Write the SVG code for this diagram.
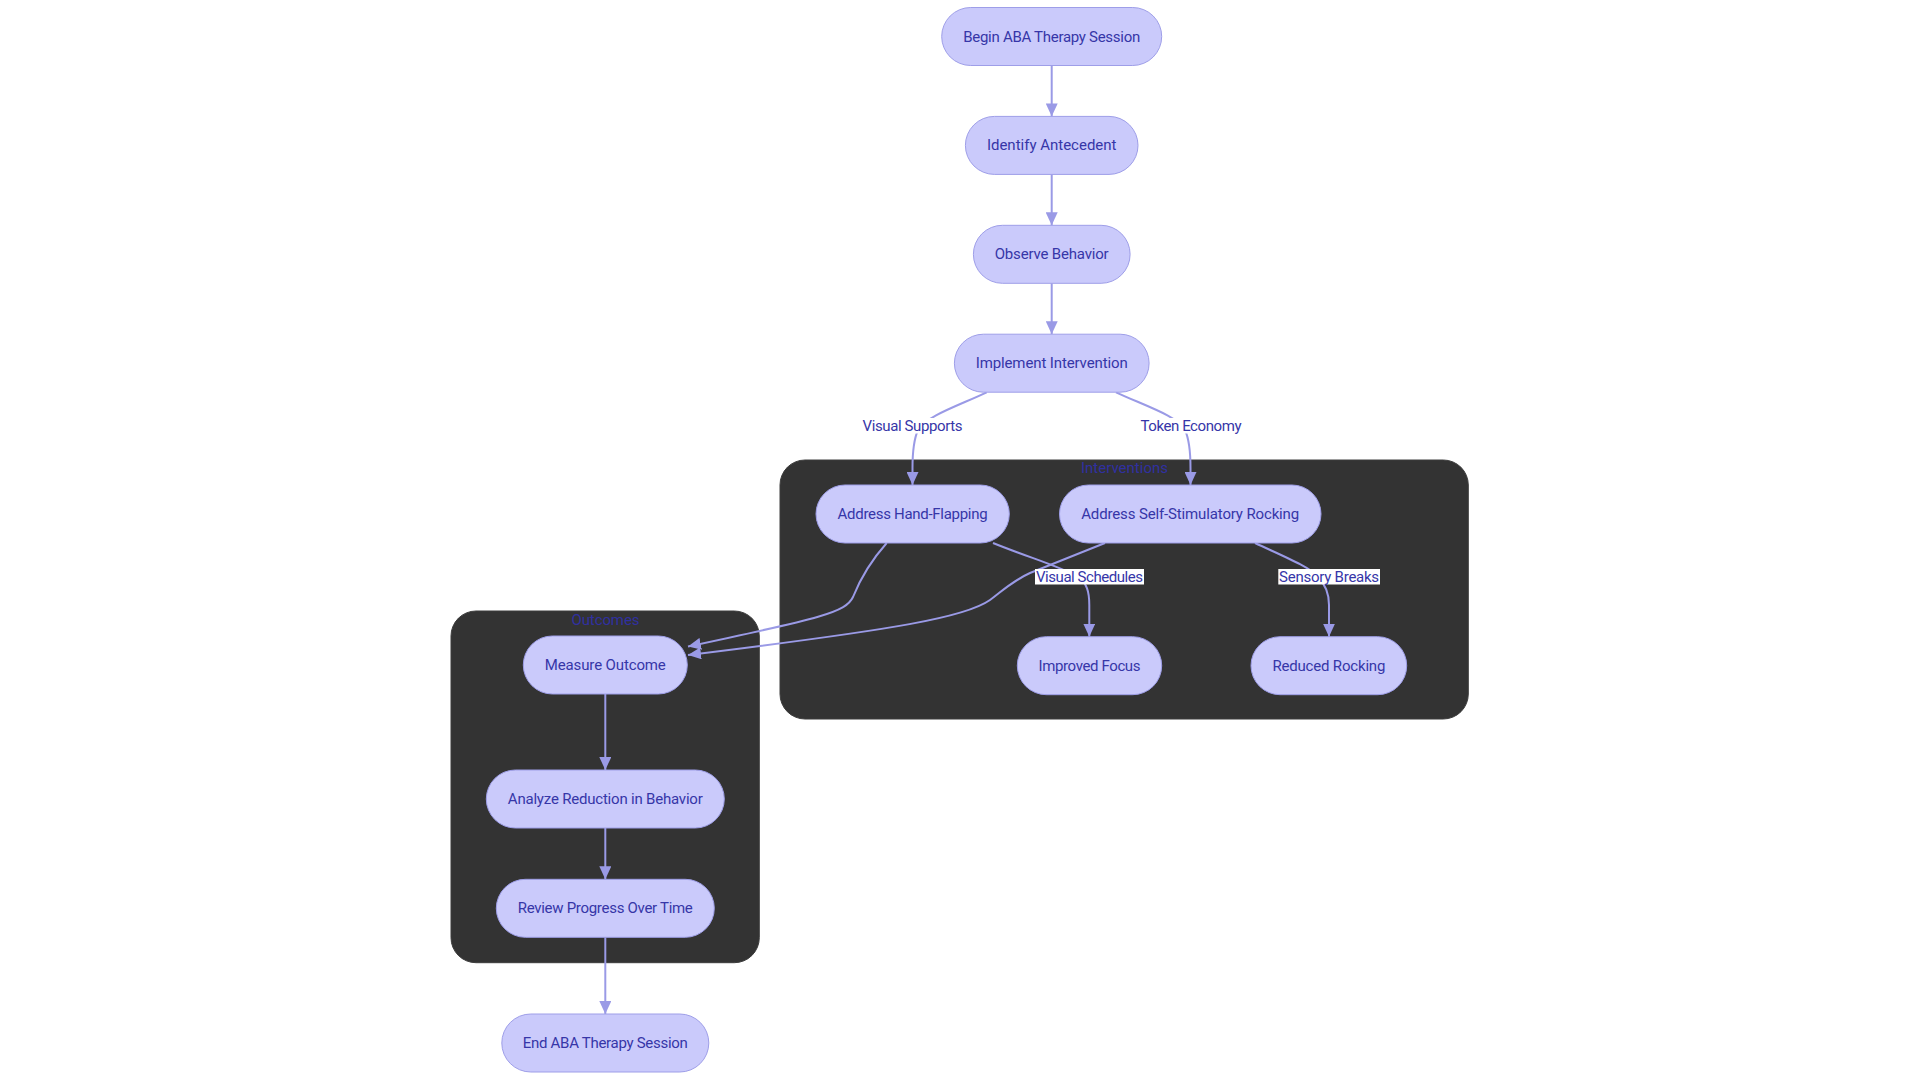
<svg xmlns="http://www.w3.org/2000/svg" width="1920" height="1080" viewBox="0 0 1920 1080">
<style>
.node rect{fill:#CACAFB;stroke:#9E9EE8;stroke-width:1}
.node text,.elabel text{font-family:Roboto,"Liberation Sans",sans-serif;font-size:15px;fill:#3636A8;text-anchor:middle;dominant-baseline:central}
.cluster rect{fill:#333333;stroke:#3d3d3d;stroke-width:1}
.cluster text{font-family:Roboto,"Liberation Sans",sans-serif;font-size:15px;fill:#3030A0;text-anchor:middle;dominant-baseline:central}
.edges path{fill:none;stroke:#9A9AE6;stroke-width:2;marker-end:url(#arrow)}
.elabel rect{fill:#ffffff}
</style>
<defs>
<marker id="arrow" markerUnits="userSpaceOnUse" viewBox="0 0 13 12" markerWidth="13" markerHeight="12" refX="13" refY="6" orient="auto">
<path d="M0,0 L13,6 L0,12 z" fill="#9A9AE6"/>
</marker>
</defs>
<rect width="1920" height="1080" fill="#ffffff"/>

<g id="cluster-interventions" class="cluster">
<rect x="780" y="460" width="688.3" height="259" rx="25" ry="25"/>
<text x="1124.5" y="468" textLength="87">Interventions</text>
</g>
<g id="cluster-outcomes" class="cluster">
<rect x="451" y="611" width="308.3" height="351.7" rx="25" ry="25"/>
<text x="605.5" y="619.5" textLength="68">Outcomes</text>
</g>

<g id="edges" class="edges">
<path d="M1051.7,65.5 L1051.7,116.4"/>
<path d="M1051.7,174.4 L1051.7,225.3"/>
<path d="M1051.7,283.3 L1051.7,334.2"/>
<path d="M986.7,392.3 C960,405 926,416 918,430 C913.5,440 912.5,452 912.5,468 L912.5,485"/>
<path d="M1116,392.3 C1143,405 1178,416 1185,430 C1189.5,440 1190.5,452 1190.5,468 L1190.5,485"/>
<path d="M886.7,543 C868,564 859,582 853,597 C846,612 822,618 688,646.5"/>
<path d="M1105,543 L1030,573 C1012,581 1001,592 990,600 C966,617 900,629 688,655"/>
<path d="M993,543 C1030,558 1062,567 1078,577 C1087,583 1089.3,592 1089.3,605 L1089.3,636.7"/>
<path d="M1255,543 C1285,557 1310,567 1318,577 C1326,585 1329,595 1329,605 L1329,636.7"/>
<path d="M605.3,694 L605.3,770"/>
<path d="M605.3,828 L605.3,879.3"/>
<path d="M605.3,937.3 L605.3,1014"/>
</g>

<g id="edge-labels">
<g class="elabel" id="label-visual-supports"><rect x="862" y="418" width="101" height="15.5"/><text x="912.5" y="425.7" textLength="100">Visual Supports</text></g>
<g class="elabel" id="label-token-economy"><rect x="1140" y="418" width="102" height="15.5"/><text x="1191" y="425.7" textLength="101">Token Economy</text></g>
<g class="elabel" id="label-visual-schedules"><rect x="1035" y="569" width="109" height="15.5"/><text x="1089.5" y="577" textLength="107">Visual Schedules</text></g>
<g class="elabel" id="label-sensory-breaks"><rect x="1278.3" y="569" width="101.7" height="15.5"/><text x="1329.1" y="577" textLength="100">Sensory Breaks</text></g>
</g>

<g id="node-begin" class="node"><rect x="941.7" y="7.5" width="220" height="58" rx="29" ry="29"/><text x="1051.7" y="36.5" textLength="177">Begin ABA Therapy Session</text></g>
<g id="node-identify" class="node"><rect x="965.4" y="116.4" width="172.6" height="58" rx="29" ry="29"/><text x="1051.7" y="145.4" textLength="129.6">Identify Antecedent</text></g>
<g id="node-observe" class="node"><rect x="973.4" y="225.3" width="156.7" height="58" rx="29" ry="29"/><text x="1051.7" y="254.3" textLength="114">Observe Behavior</text></g>
<g id="node-implement" class="node"><rect x="954.4" y="334.2" width="194.7" height="58" rx="29" ry="29"/><text x="1051.7" y="363.2" textLength="152">Implement Intervention</text></g>
<g id="node-handflap" class="node"><rect x="816" y="485" width="193.3" height="58" rx="29" ry="29"/><text x="912.6" y="514" textLength="150">Address Hand-Flapping</text></g>
<g id="node-selfstim" class="node"><rect x="1059.5" y="485" width="261.5" height="58" rx="29" ry="29"/><text x="1190.2" y="514" textLength="218">Address Self-Stimulatory Rocking</text></g>
<g id="node-focus" class="node"><rect x="1017.3" y="636.7" width="144.4" height="58" rx="29" ry="29"/><text x="1089.5" y="665.7" textLength="102">Improved Focus</text></g>
<g id="node-rocking" class="node"><rect x="1251" y="636.7" width="155.7" height="58" rx="29" ry="29"/><text x="1328.9" y="665.7" textLength="113">Reduced Rocking</text></g>
<g id="node-measure" class="node"><rect x="523.3" y="636" width="164" height="58" rx="29" ry="29"/><text x="605.3" y="665" textLength="121">Measure Outcome</text></g>
<g id="node-analyze" class="node"><rect x="486.3" y="770" width="238" height="58" rx="29" ry="29"/><text x="605.3" y="799" textLength="195">Analyze Reduction in Behavior</text></g>
<g id="node-review" class="node"><rect x="496.3" y="879.3" width="218" height="58" rx="29" ry="29"/><text x="605.3" y="908.3" textLength="175">Review Progress Over Time</text></g>
<g id="node-end" class="node"><rect x="501.8" y="1014" width="207" height="58" rx="29" ry="29"/><text x="605.3" y="1043" textLength="165">End ABA Therapy Session</text></g>
</svg>
